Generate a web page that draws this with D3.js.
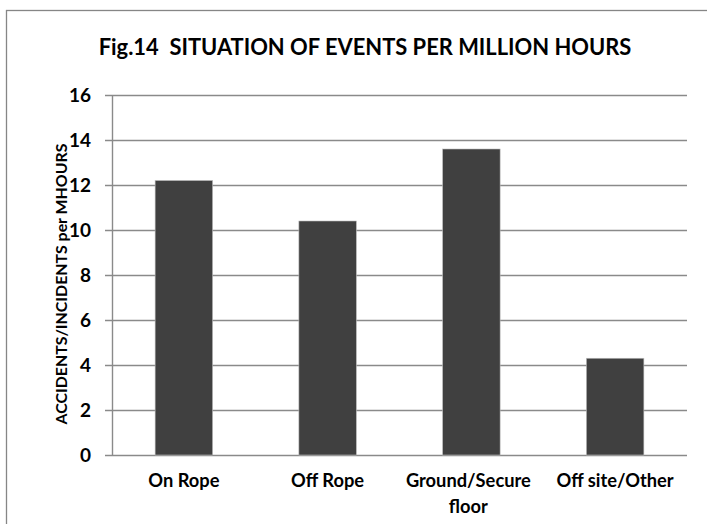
<!DOCTYPE html>
<html><head><meta charset="utf-8">
<script src="https://cdn.jsdelivr.net/npm/d3@7"></script>
<style>html,body{margin:0;padding:0;background:#fff;overflow:hidden}</style>
</head><body>
<svg id="c" width="707" height="524"></svg>
<script>
const title = "Fig.14  SITUATION OF EVENTS PER MILLION HOURS";
const yAxisTitle = "ACCIDENTS/INCIDENTS per MHOURS";
const categories = [["On Rope"], ["Off Rope"], ["Ground/Secure", "floor"], ["Off site/Other"]];
const values = [12.2, 10.4, 13.6, 4.3];
const yTicks = [0, 2, 4, 6, 8, 10, 12, 14, 16];

(function () {
const FONT = "Lato, 'Open Sans', sans-serif";
const svg = d3.select("#c");
const pL = 112, pR = 687, pT = 95, pB = 455;

svg.append("rect").attr("x", 6.5).attr("y", 10.5).attr("width", 720).attr("height", 540)
  .attr("fill", "#fff").attr("stroke", "#868686").attr("stroke-width", 1.3);

const keys = categories.map(c => c.join(" "));
const x = d3.scaleBand().domain(keys).range([pL, pR]).paddingInner(0.6).paddingOuter(0.3);
const y = d3.scaleLinear().domain([0, 16]).range([pB, pT]);

// gridlines
svg.append("g").selectAll("line").data(yTicks).join("line")
  .attr("x1", pL - 7).attr("x2", pR)
  .attr("y1", d => Math.round(y(d)) + 0.5).attr("y2", d => Math.round(y(d)) + 0.5)
  .attr("stroke", "#8a8a8a").attr("stroke-width", 1.4);

// y axis
const ya = svg.append("g").attr("transform", `translate(${pL},0)`)
  .call(d3.axisLeft(y).tickValues(yTicks).tickSize(0).tickPadding(21));
ya.select(".domain").remove();
ya.selectAll("text").attr("font-family", FONT).attr("font-weight", "bold")
  .attr("font-size", 19).attr("fill", "#000");
svg.append("line").attr("x1", pL + 0.5).attr("x2", pL + 0.5).attr("y1", pT).attr("y2", pB)
  .attr("stroke", "#8a8a8a").attr("stroke-width", 1.4);

// bars
svg.append("g").selectAll("rect").data(values).join("rect")
  .attr("x", (d, i) => x(keys[i])).attr("width", x.bandwidth())
  .attr("y", d => y(d)).attr("height", d => y(0) - y(d))
  .attr("fill", "#404040").attr("stroke", "#bdbdbd").attr("stroke-width", 0.6);

// x labels
const xl = svg.append("g").selectAll("text").data(categories).join("text")
  .attr("font-family", FONT).attr("font-weight", "bold").attr("font-size", 18.3)
  .attr("text-anchor", "middle").attr("fill", "#000");
xl.each(function(c, i) {
  const t = d3.select(this);
  const cx = x(keys[i]) + x.bandwidth() / 2 - (c.length > 1 ? 3 : 0);
  c.forEach((line, j) => {
    t.append("tspan").attr("x", cx).attr("y", 487 + j * 26).text(line);
  });
});

// title
svg.append("text").attr("x", 365).attr("y", 55).attr("text-anchor", "middle")
  .attr("font-family", FONT).attr("font-weight", "bold").attr("font-size", 21.9)
  .style("white-space", "pre").attr("fill", "#000").text(title);

// y title
svg.append("text").attr("transform", "translate(67,284) rotate(-90)")
  .attr("text-anchor", "middle").attr("font-family", FONT).attr("font-weight", "bold")
  .attr("font-size", 15.9).attr("fill", "#000").text(yAxisTitle);
})();
</script>
</body></html>
